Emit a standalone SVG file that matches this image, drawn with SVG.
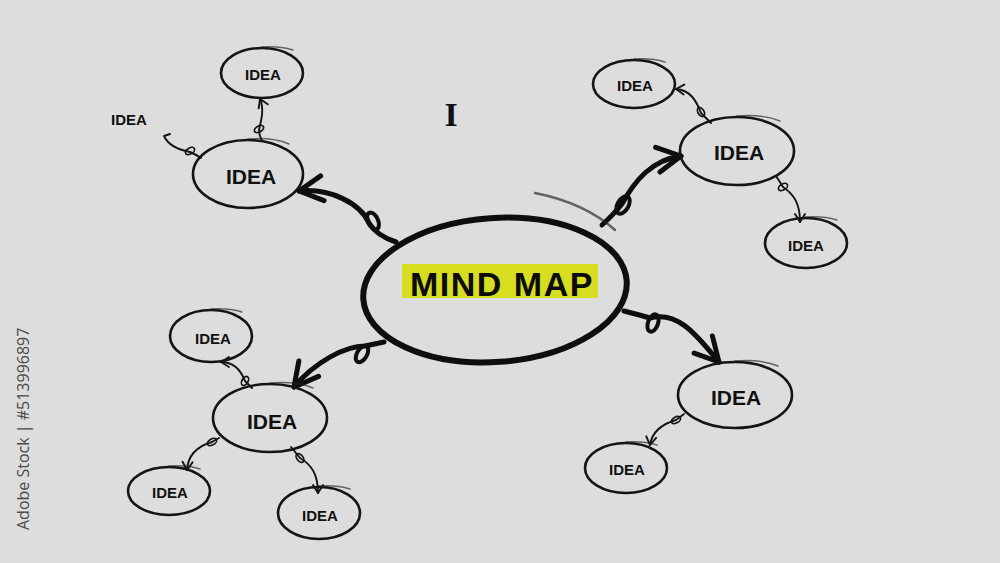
<svg xmlns="http://www.w3.org/2000/svg" width="1000" height="563" viewBox="0 0 1000 563">
<style>
.node{fill:none;stroke:#141414;stroke-width:2.6}
.center{fill:none;stroke:#0e0e0e;stroke-width:6}
.tail{fill:none;stroke:#222;stroke-width:1.4;opacity:.65;stroke-linecap:round}
.big{fill:none;stroke:#0e0e0e;stroke-width:5;stroke-linecap:round;stroke-linejoin:round}
.sm{fill:none;stroke:#141414;stroke-width:1.9;stroke-linecap:round;stroke-linejoin:round}
.loopb{fill:none;stroke:#0e0e0e;stroke-width:4}
.loops{fill:none;stroke:#141414;stroke-width:1.7}
.idea{font-family:"Liberation Sans",Arial,sans-serif;font-weight:bold;text-anchor:middle;fill:#111}
.m{font-size:21px}
.s{font-size:15px}
</style>
<defs>
<marker id="ab" markerUnits="userSpaceOnUse" markerWidth="40" markerHeight="40" refX="0" refY="0" orient="auto" overflow="visible">
<path d="M -24,-12 L 0,0 L -23,13" fill="none" stroke="#0e0e0e" stroke-width="5" stroke-linecap="round" stroke-linejoin="round"/>
</marker>
<marker id="as" markerUnits="userSpaceOnUse" markerWidth="20" markerHeight="20" refX="0" refY="0" orient="auto" overflow="visible">
<path d="M -8,-5 L 0,0 L -8,5" fill="none" stroke="#141414" stroke-width="1.9" stroke-linecap="round" stroke-linejoin="round"/>
</marker>
</defs>
<rect x="0" y="0" width="1000" height="563" fill="#dddddd"/>

<g id="connectors">
<!-- big arrows from center -->
<path class="big" d="M 396,242 Q 377,236 369,223 C 360,203 330,188 299,191" marker-end="url(#ab)"/>
<ellipse class="loopb" cx="373" cy="221" rx="5" ry="9" transform="rotate(-25 373 221)"/>
<path class="big" d="M 602,225 Q 614,214 622,204 C 635,180 652,160 681,156" marker-end="url(#ab)"/>
<ellipse class="loopb" cx="623" cy="205" rx="5.5" ry="9.5" transform="rotate(30 623 205)"/>
<path class="big" d="M 384,342 L 365,346 C 345,346 315,362 294,387" marker-end="url(#ab)"/>
<ellipse class="loopb" cx="362" cy="354" rx="5" ry="9" transform="rotate(30 362 354)"/>
<path class="big" d="M 624,311 Q 640,315 650,318 C 680,310 700,340 719,362" marker-end="url(#ab)"/>
<ellipse class="loopb" cx="653" cy="323" rx="5" ry="9" transform="rotate(20 653 323)"/>
<!-- small connectors -->
<path class="sm" d="M 262,141 Q 259,135 259,130 C 262,118 264,108 260,99" marker-end="url(#as)"/>
<ellipse class="loops" cx="259" cy="129" rx="3" ry="5" transform="rotate(60 259 129)"/>
<path class="sm" d="M 201,158 Q 195,154 190,152 C 180,150 168,145 164,136 L 170,134"/>
<ellipse class="loops" cx="190" cy="151" rx="3" ry="5" transform="rotate(60 190 151)"/>
<path class="sm" d="M 711,123 Q 705,117 701,113 C 696,100 690,90 676,89" marker-end="url(#as)"/>
<ellipse class="loops" cx="701" cy="112" rx="3" ry="5" transform="rotate(-30 701 112)"/>
<path class="sm" d="M 776,176 Q 780,182 783,187 C 795,195 800,205 800,222" marker-end="url(#as)"/>
<ellipse class="loops" cx="783" cy="187" rx="3" ry="5" transform="rotate(60 783 187)"/>
<path class="sm" d="M 252,388 Q 248,384 245,381 C 240,368 232,362 221,362" marker-end="url(#as)"/>
<ellipse class="loops" cx="245" cy="381" rx="3" ry="5" transform="rotate(30 245 381)"/>
<path class="sm" d="M 219,438 Q 215,440 212,442 C 198,446 188,455 187,470" marker-end="url(#as)"/>
<ellipse class="loops" cx="212" cy="442" rx="3" ry="5" transform="rotate(60 212 442)"/>
<path class="sm" d="M 291,447 Q 296,453 300,458 C 312,465 318,475 318,493" marker-end="url(#as)"/>
<ellipse class="loops" cx="300" cy="458" rx="3" ry="5" transform="rotate(-40 300 458)"/>
<path class="sm" d="M 684,414 Q 680,417 676,420 C 662,424 652,432 650,445" marker-end="url(#as)"/>
<ellipse class="loops" cx="676" cy="420" rx="3" ry="5" transform="rotate(60 676 420)"/>
</g>

<g id="center">
<ellipse class="center" cx="495" cy="290" rx="132" ry="72" transform="rotate(-4 495 290)"/>
<path class="tail" style="stroke-width:2.5" d="M 535,193 Q 585,203 615,230"/>
<rect x="402" y="264" width="196" height="34" fill="#d6de1f"/>
<text x="502" y="296" font-family="Liberation Sans, Arial, sans-serif" font-weight="bold" font-size="34" letter-spacing="1.5" text-anchor="middle" fill="#0c0c0c">MIND  MAP</text>
</g>

<g id="n_tl">
<ellipse class="node" cx="248" cy="174" rx="55" ry="34"/>
<path class="tail" d="M 248,139 Q 273,137 289,144"/>
<text class="idea m" x="251" y="184">IDEA</text>
</g>
<g id="n_tl_top">
<ellipse class="node" cx="262" cy="73" rx="41" ry="25"/>
<path class="tail" d="M 262,47 Q 280,46 293,50"/>
<text class="idea s" x="263" y="80">IDEA</text>
</g>
<g id="n_tl_loose">
<text class="idea s" x="129" y="125">IDEA</text>
</g>
<g id="n_tr">
<ellipse class="node" cx="737" cy="151" rx="57" ry="34"/>
<path class="tail" d="M 737,116 Q 763,114 780,121"/>
<text class="idea m" x="739" y="160">IDEA</text>
</g>
<g id="n_tr_top">
<ellipse class="node" cx="634" cy="84" rx="41" ry="24"/>
<path class="tail" d="M 634,59 Q 652,58 665,62"/>
<text class="idea s" x="635" y="91">IDEA</text>
</g>
<g id="n_tr_bot">
<ellipse class="node" cx="806" cy="243" rx="41" ry="25"/>
<path class="tail" d="M 806,217 Q 824,216 837,220"/>
<text class="idea s" x="806" y="251">IDEA</text>
</g>
<g id="n_bl">
<ellipse class="node" cx="270" cy="418" rx="57" ry="34"/>
<path class="tail" d="M 270,383 Q 296,381 313,388"/>
<text class="idea m" x="272" y="429">IDEA</text>
</g>
<g id="n_bl_top">
<ellipse class="node" cx="211" cy="336" rx="41" ry="26"/>
<path class="tail" d="M 211,309 Q 229,308 242,312"/>
<text class="idea s" x="213" y="344">IDEA</text>
</g>
<g id="n_bl_left">
<ellipse class="node" cx="169" cy="491" rx="41" ry="24"/>
<path class="tail" d="M 169,466 Q 187,465 200,469"/>
<text class="idea s" x="170" y="498">IDEA</text>
</g>
<g id="n_bl_right">
<ellipse class="node" cx="319" cy="513" rx="41" ry="26"/>
<path class="tail" d="M 319,486 Q 337,485 350,489"/>
<text class="idea s" x="320" y="521">IDEA</text>
</g>
<g id="n_br">
<ellipse class="node" cx="735" cy="395" rx="57" ry="33"/>
<path class="tail" d="M 735,361 Q 761,359 778,366"/>
<text class="idea m" x="736" y="405">IDEA</text>
</g>
<g id="n_br_small">
<ellipse class="node" cx="626" cy="468" rx="41" ry="25"/>
<path class="tail" d="M 626,442 Q 644,441 657,445"/>
<text class="idea s" x="627" y="475">IDEA</text>
</g>

<text x="451" y="126" font-family="Liberation Serif, serif" font-weight="bold" font-size="34" text-anchor="middle" fill="#111">I</text>
<text transform="translate(29,530) rotate(-90)" font-family="Open Sans, sans-serif" font-size="16" fill="#4a4a4a">Adobe Stock | #513996897</text>
</svg>
